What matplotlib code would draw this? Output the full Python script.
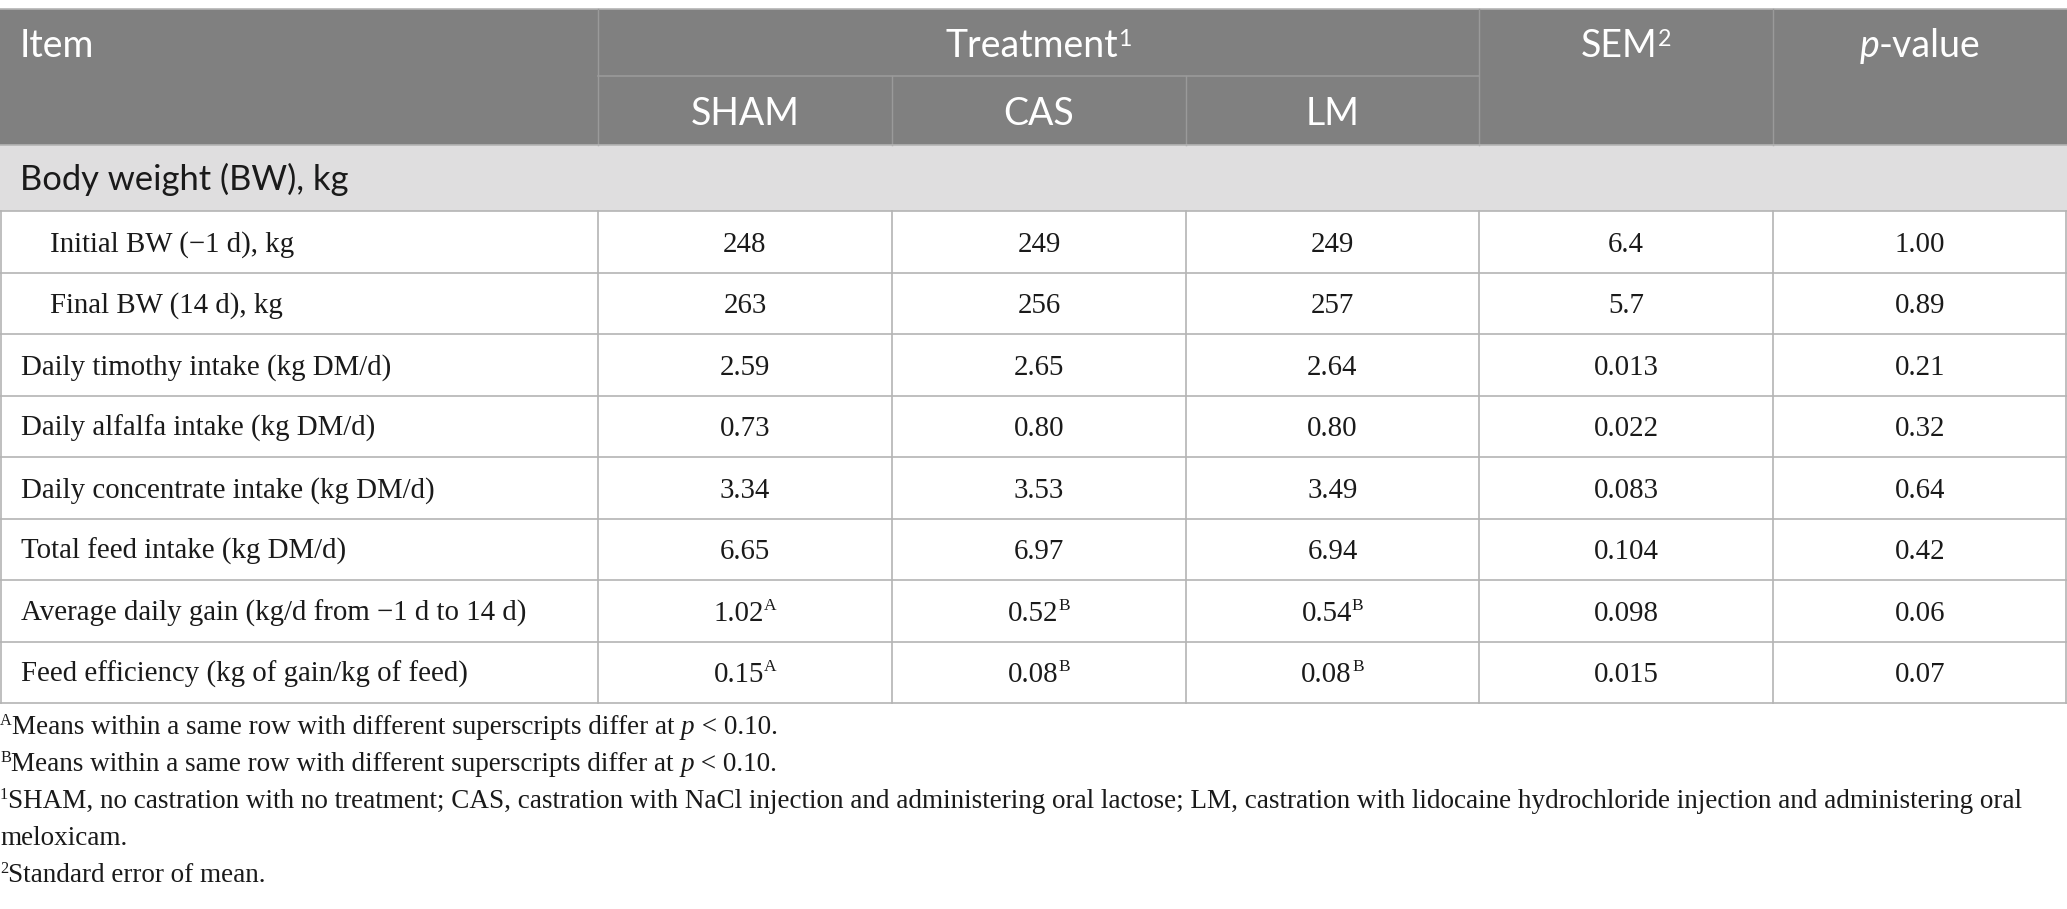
import matplotlib
matplotlib.use("Agg")
import matplotlib.pyplot as plt
from matplotlib.patches import Rectangle

# ---- table content ----
col_heads = ["SHAM", "CAS", "LM"]
section = "Body weight (BW), kg"
items = ["Initial BW (\u22121 d), kg", "Final BW (14 d), kg",
         "Daily timothy intake (kg DM/d)", "Daily alfalfa intake (kg DM/d)",
         "Daily concentrate intake (kg DM/d)", "Total feed intake (kg DM/d)",
         "Average daily gain (kg/d from \u22121 d to 14 d)",
         "Feed efficiency (kg of gain/kg of feed)"]
indented = [True, True, False, False, False, False, False, False]
sham = ["248", "263", "2.59", "0.73", "3.34", "6.65", "1.02", "0.15"]
sham_sup = ["", "", "", "", "", "", "A", "A"]
cas = ["249", "256", "2.65", "0.80", "3.53", "6.97", "0.52", "0.08"]
cas_sup = ["", "", "", "", "", "", "B", "B"]
lm = ["249", "257", "2.64", "0.80", "3.49", "6.94", "0.54", "0.08"]
lm_sup = ["", "", "", "", "", "", "B", "B"]
sem = ["6.4", "5.7", "0.013", "0.022", "0.083", "0.104", "0.098", "0.015"]
pval = ["1.00", "0.89", "0.21", "0.32", "0.64", "0.42", "0.06", "0.07"]

# ---- layout (pixels) ----
W, H = 2067, 909
xs = [0, 598, 892, 1186, 1479, 1773, 2067]
y_top, y_h1, y_h2, y_sec = 9, 76, 145, 211
row_h = 61.5
dark = "#808080"
light = "#dfdedf"
grid = "#b4b4b4"
hdr_line = "#9a9a9a"
SANS = "Lato"
SERIF = "Liberation Serif"
hsize = 27
ssize = 24.8
dsize = 20.8

fig = plt.figure(figsize=(W / 100, H / 100), dpi=100)
ax = fig.add_axes([0, 0, 1, 1])
ax.set_xlim(0, W)
ax.set_ylim(H, 0)
ax.axis("off")
renderer = fig.canvas.get_renderer()


def runs(x, y, parts, ha="left"):
    # parts: (text, size, style, raise_px, family, color)
    objs = []
    total = 0
    for s, size, style, dy, fam, col in parts:
        t = ax.text(0, y - dy, s, fontsize=size, fontstyle=style, family=fam,
                    color=col, va="baseline", ha="left")
        w = t.get_window_extent(renderer).width
        objs.append((t, w))
        total += w
    if ha == "center":
        x0 = x - total / 2
    else:
        x0 = x
    for t, w in objs:
        t.set_x(x0)
        x0 += w


def base(yc, size):
    return yc + size * 100 / 72 * 0.34


# ---- backgrounds ----
ax.add_patch(Rectangle((0, y_top), W, y_h2 - y_top, color=dark, lw=0))
ax.add_patch(Rectangle((0, y_h2), W, y_sec - y_h2, color=light, lw=0))

# header lines
ax.plot([0, W], [y_top, y_top], color=grid, lw=1.2)
for xv in [xs[1], xs[4], xs[5]]:
    ax.plot([xv, xv], [y_top, y_h2], color=hdr_line, lw=1.0)
for xv in [xs[2], xs[3]]:
    ax.plot([xv, xv], [y_h1, y_h2], color=hdr_line, lw=1.0)
ax.plot([xs[1], xs[4]], [y_h1, y_h1], color=hdr_line, lw=1.2)

# body lines
n = len(items)
y_end = y_sec + n * row_h
ax.plot([0, W], [y_h2, y_h2], color=grid, lw=1.2)
for i in range(n + 1):
    yy = y_sec + i * row_h
    ax.plot([0, W], [yy, yy], color=grid, lw=1.2)
for xv in xs:
    xv = min(max(xv, 0.8), W - 0.8)
    ax.plot([xv, xv], [y_sec, y_end], color=grid, lw=1.2)

# ---- header text ----
hsup = hsize * 0.62
yb = base(44, hsize)
runs(20, yb, [("Item", hsize, "normal", 0, SANS, "white")])
runs((xs[1] + xs[4]) / 2, yb, [("Treatment", hsize, "normal", 0, SANS, "white"),
                               ("1", hsup, "normal", 11, SANS, "white")], ha="center")
runs((xs[4] + xs[5]) / 2, yb, [("SEM", hsize, "normal", 0, SANS, "white"),
                               ("2", hsup, "normal", 11, SANS, "white")], ha="center")
runs((xs[5] + xs[6]) / 2, yb, [("p", hsize, "italic", 0, SANS, "white"),
                               ("-value", hsize, "normal", 0, SANS, "white")], ha="center")
yb2 = base(112, hsize)
for j, name in enumerate(col_heads):
    runs((xs[j + 1] + xs[j + 2]) / 2, yb2, [(name, hsize, "normal", 0, SANS, "white")], ha="center")

runs(20, base(178, ssize), [(section, ssize, "normal", 0, SANS, "#1a1a1a")])

# ---- body text ----
sup_size = dsize * 0.6
for i in range(n):
    yc = y_sec + row_h * (i + 0.5)
    yb = base(yc, dsize)
    x_item = 50 if indented[i] else 21
    runs(x_item, yb, [(items[i], dsize, "normal", 0, SERIF, "#1a1a1a")])
    for j, (vals, sups) in enumerate([(sham, sham_sup), (cas, cas_sup), (lm, lm_sup)]):
        parts = [(vals[i], dsize, "normal", 0, SERIF, "#1a1a1a")]
        if sups[i]:
            parts.append((sups[i], sup_size, "normal", 11, SERIF, "#1a1a1a"))
        runs((xs[j + 1] + xs[j + 2]) / 2, yb, parts, ha="center")
    runs((xs[4] + xs[5]) / 2, yb, [(sem[i], dsize, "normal", 0, SERIF, "#1a1a1a")], ha="center")
    runs((xs[5] + xs[6]) / 2, yb, [(pval[i], dsize, "normal", 0, SERIF, "#1a1a1a")], ha="center")

# ---- footnotes ----
fsize = 19.5
fsup = fsize * 0.6
k = "#1a1a1a"
notes = [
    [("A", fsup, "normal", 9, SERIF, k), ("Means within a same row with different superscripts differ at ", fsize, "normal", 0, SERIF, k),
     ("p", fsize, "italic", 0, SERIF, k), (" < 0.10.", fsize, "normal", 0, SERIF, k)],
    [("B", fsup, "normal", 9, SERIF, k), ("Means within a same row with different superscripts differ at ", fsize, "normal", 0, SERIF, k),
     ("p", fsize, "italic", 0, SERIF, k), (" < 0.10.", fsize, "normal", 0, SERIF, k)],
    [("1", fsup, "normal", 9, SERIF, k), ("SHAM, no castration with no treatment; CAS, castration with NaCl injection and administering oral lactose; LM, castration with lidocaine hydrochloride injection and administering oral", fsize, "normal", 0, SERIF, k)],
    [("meloxicam.", fsize, "normal", 0, SERIF, k)],
    [("2", fsup, "normal", 9, SERIF, k), ("Standard error of mean.", fsize, "normal", 0, SERIF, k)],
]
note_y = [725, 762, 799, 836, 873]
for parts, yc in zip(notes, note_y):
    runs(0, base(yc, fsize), parts)

fig.savefig("out.png", dpi=100)
